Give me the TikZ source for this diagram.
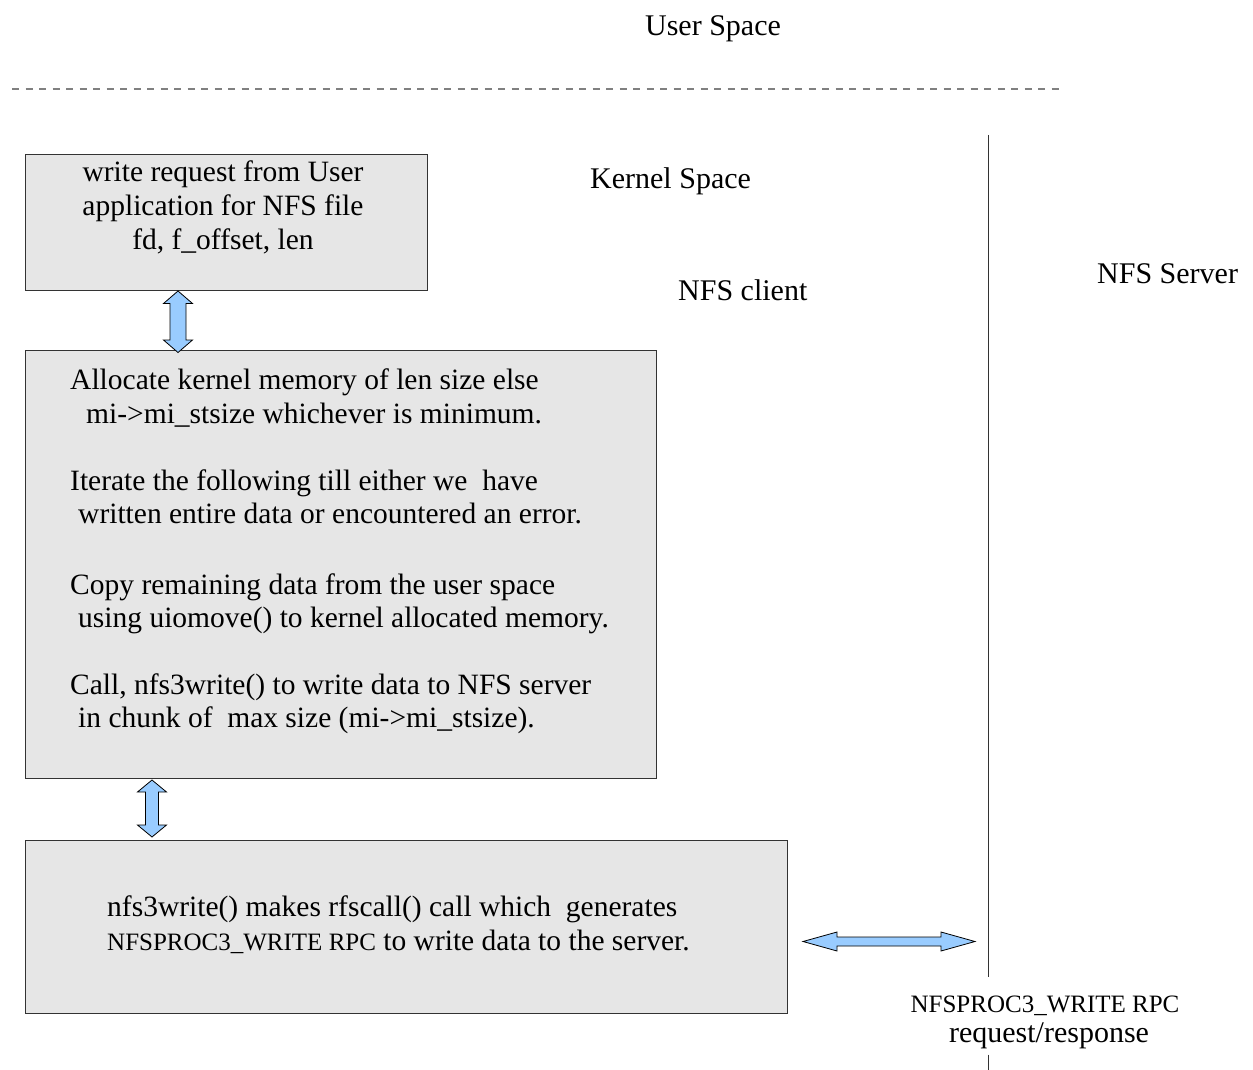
\documentclass[tikz,border=0pt]{standalone}
\usepackage{fontspec}
\setmainfont{Liberation Serif}
\usetikzlibrary{calc}

\definecolor{boxfill}{HTML}{E6E6E6}
\definecolor{boxline}{HTML}{333333}
\definecolor{arrowfill}{HTML}{99CCFF}
\definecolor{sepline}{HTML}{808080}

\tikzset{
  procbox/.style={draw=boxline, line width=1pt, fill=boxfill, rectangle,
    anchor=north west, inner sep=0pt},
  bigtext/.style={font=\fontsize{30}{34}\selectfont, inner sep=0pt},
  smalltext/.style={font=\fontsize{25}{28}\selectfont, inner sep=0pt},
  boxline/.style={anchor=base west, inner sep=0pt, font=\fontsize{29.5}{34}\selectfont},
  boxlinec/.style={anchor=base, inner sep=0pt, font=\fontsize{29.5}{34}\selectfont},
  blockarrow/.style={draw=black, line width=0.8pt, fill=arrowfill, line join=miter},
  serverline/.style={draw=boxline, line width=1pt},
}

% double-headed block arrow: #1 tip, #2 other tip, #3 head half-width,
% #4 shaft half-width, #5 head length (vertical, #1 above #2)
\newcommand\vdblarrow[5]{%
  \draw[blockarrow] (#1) -- ($(#1)+(#3,#5)$) -- ($(#1)+(#4,#5)$)
    -- ($(#2)+(#4,-#5)$) -- ($(#2)+(#3,-#5)$) -- (#2)
    -- ($(#2)+(-#3,-#5)$) -- ($(#2)+(-#4,-#5)$)
    -- ($(#1)+(-#4,#5)$) -- ($(#1)+(-#3,#5)$) -- cycle;}
% same, horizontal (#1 left of #2)
\newcommand\hdblarrow[5]{%
  \draw[blockarrow] (#1) -- ($(#1)+(#5,-#3)$) -- ($(#1)+(#5,-#4)$)
    -- ($(#2)+(-#5,-#4)$) -- ($(#2)+(-#5,-#3)$) -- (#2)
    -- ($(#2)+(-#5,#3)$) -- ($(#2)+(-#5,#4)$)
    -- ($(#1)+(#5,#4)$) -- ($(#1)+(#5,#3)$) -- cycle;}

\begin{document}
\begin{tikzpicture}[x=1pt,y=-1pt]
\useasboundingbox (0,0) rectangle (1253,1070);

% user / kernel boundary
\draw[sepline, line width=1.2pt, dash pattern=on 7pt off 6.5pt] (12,89) -- (1063,89);

% region labels
\node[bigtext, anchor=base] (user) at (713,36) {User Space};
\node[bigtext, anchor=base west] (kernel) at (590,188) {Kernel Space};
\node[bigtext, anchor=base west] (client) at (678,300) {NFS client};
\node[bigtext, anchor=base west] (server) at (1097,283) {NFS Server};

% processing boxes
\node[procbox, minimum width=402pt, minimum height=136pt] (b1) at (25,154) {};
\node[procbox, minimum width=631pt, minimum height=428pt] (b2) at (25,350) {};
\node[procbox, minimum width=762pt, minimum height=173pt] (b3) at (25,840) {};

% box 1 text
\node[boxlinec] (t11) at (223,182) {write request from User};
\node[boxlinec] (t12) at (223,215) {application for NFS file};
\node[boxlinec] (t13) at (223,249) {fd, f\_offset, len};

% box 2 text
\node[boxline] (t21) at (70,389) {Allocate kernel memory of len size else};
\node[boxline] (t22) at (86,423) {mi->mi\_stsize whichever is minimum.};
\node[boxline] (t23) at (70,490) {Iterate the following till either we\ \ have};
\node[boxline] (t24) at (78,523) {written entire data or encountered an error.};
\node[boxline] (t25) at (70,594) {Copy remaining data from the user space};
\node[boxline] (t26) at (78,627) {using uiomove() to kernel allocated memory.};
\node[boxline] (t27) at (70,694) {Call, nfs3write() to write data to NFS server};
\node[boxline] (t28) at (78,727) {in chunk of\ \ max size (mi->mi\_stsize).};

% box 3 text
\node[boxline] (t31) at (107,916) {nfs3write() makes rfscall() call which\ \ generates};
\node[boxline] (t32) at (107,950) {{\fontsize{25}{28}\selectfont NFSPROC3\_WRITE RPC} to write data to the server.};

% client / server boundary and its label
\coordinate (srvtop) at (988,135);
\coordinate (srvbot) at (988,1070);
\node[smalltext, anchor=base] (rpc1) at (1045,1012) {NFSPROC3\_WRITE RPC};
\node[bigtext, anchor=base] (rpc2) at (1049,1042) {request/response};
\draw[serverline] (srvtop) -- ($(srvtop |- rpc1.north)+(0,-18)$);
\draw[serverline] ($(srvtop |- rpc2.south)+(0,6)$) -- (srvbot);

% block arrows between boxes
\coordinate (a1t) at ($(b1.south west)+(153,0)$);
\coordinate (a1b) at ($(a1t |- b2.north)+(0,2.5)$);
\vdblarrow{a1t}{a1b}{14.5}{8}{12.5}
\coordinate (a2t) at ($(b2.south west)+(127,1)$);
\coordinate (a2b) at ($(a2t |- b3.north)+(0,-3)$);
\vdblarrow{a2t}{a2b}{14.5}{6.5}{12}
\coordinate (a3l) at ($(b3.east)+(15,14.5)$);
\coordinate (a3r) at ($(a3l -| srvtop)+(-13,0)$);
\hdblarrow{a3l}{a3r}{9.5}{4.5}{34}

\end{tikzpicture}
\end{document}
